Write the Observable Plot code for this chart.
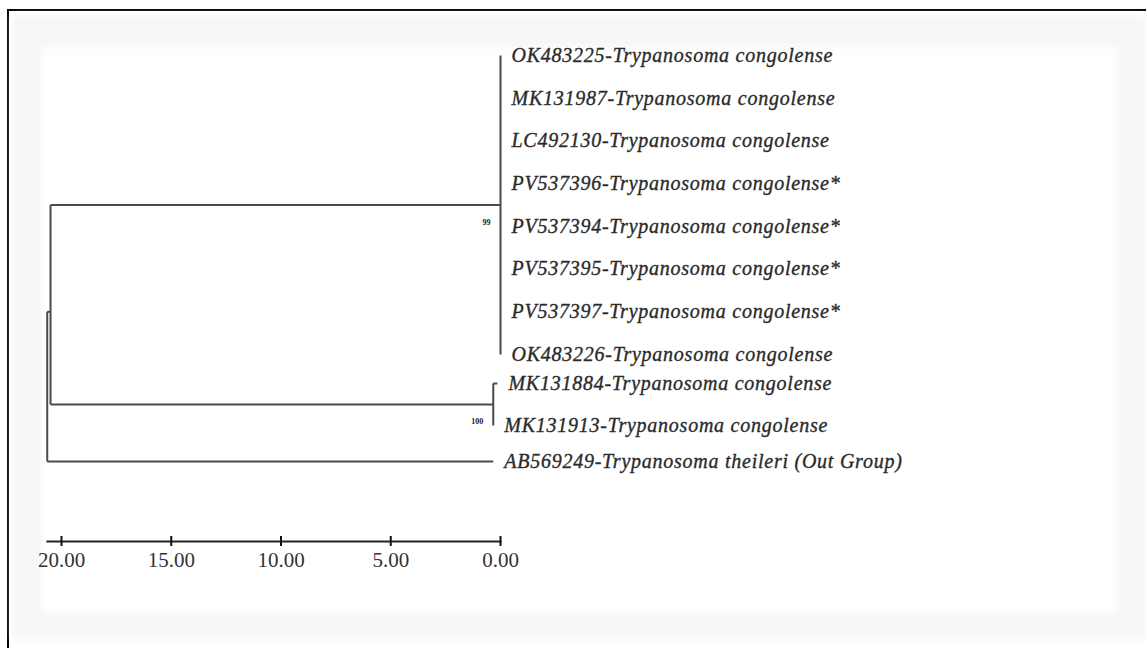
<!DOCTYPE html>
<html><head><meta charset="utf-8">
<script src="https://cdn.jsdelivr.net/npm/d3@7"></script>
<script src="https://cdn.jsdelivr.net/npm/@observablehq/plot@0.6"></script>
<style>
body{margin:0;background:#fff}
#wrap{position:relative;width:1146px;height:648px;overflow:hidden;background:#fff}
#border{position:absolute;left:7px;top:9px;width:1300px;height:800px;border-top:2px solid #000;border-left:2px solid #000}
#band{position:absolute;left:12px;top:15px;width:1134px;height:624px;background:#f7f7f7;filter:blur(3px)}
#inner{position:absolute;left:42px;top:47px;width:1075px;height:566px;background:#fff;filter:blur(3px)}
#chart{position:absolute;left:0;top:0}
</style></head><body>
<div id="wrap"><div id="border"></div><div id="band"></div><div id="inner"></div><div id="chart"></div></div>
<script>
// Leaves (top to bottom), their parent node and their height (distance units)
const leafNames = [
  "OK483225-Trypanosoma congolense",
  "MK131987-Trypanosoma congolense",
  "LC492130-Trypanosoma congolense",
  "PV537396-Trypanosoma congolense*",
  "PV537394-Trypanosoma congolense*",
  "PV537395-Trypanosoma congolense*",
  "PV537397-Trypanosoma congolense*",
  "OK483226-Trypanosoma congolense",
  "MK131884-Trypanosoma congolense",
  "MK131913-Trypanosoma congolense",
  "AB569249-Trypanosoma theileri (Out Group)"
];
const leafParents = ["cladeA","cladeA","cladeA","cladeA","cladeA","cladeA","cladeA","cladeA","cladeB","cladeB","root"];
const leafHeights = [0, 0, 0, 0, 0, 0, 0, 0, 0.14, 0.33, 0.33];

// Internal nodes
const nodeNames   = ["root", "ingroup", "cladeA", "cladeB"];
const nodeParents = [null, "root", "ingroup", "ingroup"];
const nodeHeights = [20.65, 20.5, 0, 0.33];
const nodeSupport = [null, null, 99, 100];

// Scale bar
const scaleTicks = [20, 15, 10, 5, 0];
const scaleTickLabels = ["20.00", "15.00", "10.00", "5.00", "0.00"];

// ---- build tree geometry (in data units) ----
const nodes = new Map();
nodeNames.forEach((n, i) => nodes.set(n, {name: n, h: nodeHeights[i], parent: nodeParents[i], support: nodeSupport[i], children: []}));
leafNames.forEach((n, i) => {
  nodes.set(n, {name: n, h: leafHeights[i], parent: leafParents[i], y: i, leaf: true, children: []});
});
for (const nd of nodes.values()) if (nd.parent) nodes.get(nd.parent).children.push(nd);
function setY(nd) {
  if (nd.leaf) return nd.y;
  const ys = nd.children.map(setY);
  nd.y1 = d3.min(ys); nd.y2 = d3.max(ys);
  nd.y = (nd.y1 + nd.y2) / 2;
  return nd.y;
}
setY(nodes.get("root"));
const hEdges = [], vEdges = [];
for (const nd of nodes.values()) {
  if (nd.parent) hEdges.push({x1: nodes.get(nd.parent).h, x2: nd.h, y: nd.y});
  if (!nd.leaf) vEdges.push({x: nd.h, y1: nd.y1, y2: nd.y2});
}
const leafData = leafNames.map(n => nodes.get(n));
const supportData = [...nodes.values()].filter(d => d.support != null);

const serif = "'Liberation Serif','Times New Roman',serif";
const chart = Plot.plot({
  width: 1146, height: 648,
  marginLeft: 47, marginRight: 646, marginTop: 20, marginBottom: 107,
  style: {background: "transparent", fontFamily: serif, color: "#2a2a2a", overflow: "visible"},
  x: {type: "linear", domain: [20, 0], range: [61, 500]},
  y: {type: "linear", domain: [0, 7, 8, 9, 10], range: [55, 354, 383, 425, 461], axis: null},
  marks: [
    Plot.link(hEdges, {x1: "x1", x2: "x2", y1: "y", y2: "y", stroke: "#4a4a4a", strokeWidth: 2}),
    Plot.link(vEdges, {x1: "x", x2: "x", y1: "y1", y2: "y2", stroke: "#4a4a4a", strokeWidth: 2}),
    Plot.text(leafData, {x: "h", y: "y", text: "name", textAnchor: "start", dx: 11,
      fontFamily: serif, fontStyle: "italic", fontSize: 20, fill: "#2a2a2a",
      stroke: "#2a2a2a", strokeWidth: 0.35}),
    Plot.text(supportData, {x: "h", y: "y", text: "support", textAnchor: "end", dx: -10, dy: 17,
      fontFamily: serif, fontWeight: "bold", fontSize: 8, fill: "#222"}),
    Plot.frame({anchor: "bottom", stroke: "#222", strokeWidth: 2.2}),
    Plot.axisX({ticks: scaleTicks, tickSize: 10, dy: -5, fill: "none", stroke: "#111", strokeWidth: 2}),
    Plot.axisX({ticks: scaleTicks, tickSize: 0, tickPadding: 11,
      tickFormat: d => scaleTickLabels[scaleTicks.indexOf(d)], fontSize: 21, fill: "#333",
      stroke: "#333", strokeWidth: 0.3, label: null})
  ]
});
chart.querySelectorAll('g[font-style="italic"]').forEach(g => g.setAttribute("letter-spacing", "0.75"));
document.getElementById("chart").appendChild(chart);
</script></body></html>
